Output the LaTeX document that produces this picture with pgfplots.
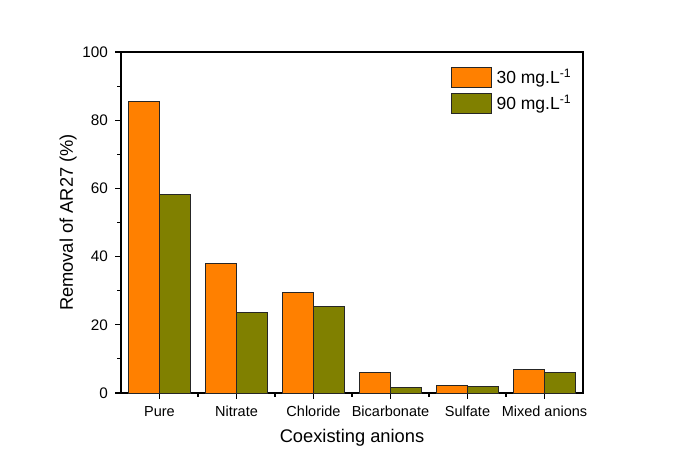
\documentclass[border=0pt]{standalone}
\usepackage{fontspec}
\setmainfont{Liberation Sans}
\usepackage{pgfplots}
\pgfplotsset{compat=1.18}

\definecolor{barorange}{RGB}{255,128,0}
\definecolor{barolive}{RGB}{128,128,0}

\pgfplotsset{
  swatch/.style={legend image code/.code={%
      \draw[##1, line width=0.9pt] (0pt,-10pt) rectangle (40pt,10pt);}},
}

\begin{document}
\begin{tikzpicture}
\path[use as bounding box] (-121pt,-79pt) rectangle (556pt,393pt);
\begin{axis}[
  at={(0pt,0pt)}, anchor=south west,
  scale only axis, width=462pt, height=341pt,
  ybar=0pt,
  bar width=0.4,
  xmin=-0.5, xmax=5.5,
  ymin=0, ymax=100,
  xtick={0,1,2,3,4,5},
  xticklabels={Pure, Nitrate, Chloride, Bicarbonate, Sulfate, Mixed anions},
  minor xtick={0.5,1.5,2.5,3.5,4.5},
  ytick={0,20,40,60,80,100},
  minor ytick={10,30,50,70,90},
  tick pos=left,
  tick align=outside,
  major tick length=5.5pt,
  minor tick length=3.5pt,
  every tick/.style={black, line width=1.1pt},
  axis line style={line width=1.2pt},
  /pgf/number format/assume math mode=true,
  xticklabel style={font=\fontsize{14.5}{16}\selectfont, anchor=base, inner sep=0pt, yshift=-17.5pt},
  yticklabel style={font=\fontsize{15.3}{17}\selectfont, anchor=east, inner sep=0pt, xshift=-7.5pt},
  xlabel={Coexisting anions},
  ylabel={Removal of AR27 (\%)},
  xlabel style={font=\fontsize{18.3}{20}\selectfont, at={(axis description cs:0.5,-0.1466)}, anchor=base, inner sep=0pt},
  ylabel style={font=\fontsize{18.3}{20}\selectfont, at={(axis description cs:-0.1039,0.5)}, anchor=base, rotate=0, inner sep=0pt},
  legend style={at={(axis description cs:0.7136,0.9569)}, anchor=north west,
    draw=none, fill=none, inner sep=0pt, outer sep=0pt,
    font=\fontsize{17.5}{19}\selectfont,
    nodes={inner sep=0pt}, column sep=5pt, row sep=5pt},
  legend cell align=left,
]
\addplot[ybar, bar shift=-0.2, fill=barorange, draw=black!85, line width=0.9pt, swatch]
  coordinates {(0,85.4) (1,37.9) (2,29.6) (3,5.9) (4,2.2) (5,6.8)};
\addlegendentry{30 mg.L\textsuperscript{-1}}
\addplot[ybar, bar shift=0.2, fill=barolive, draw=black!85, line width=0.9pt, swatch]
  coordinates {(0,58.1) (1,23.5) (2,25.4) (3,1.7) (4,2.0) (5,5.9)};
\addlegendentry{90 mg.L\textsuperscript{-1}}
\end{axis}
\end{tikzpicture}
\end{document}
